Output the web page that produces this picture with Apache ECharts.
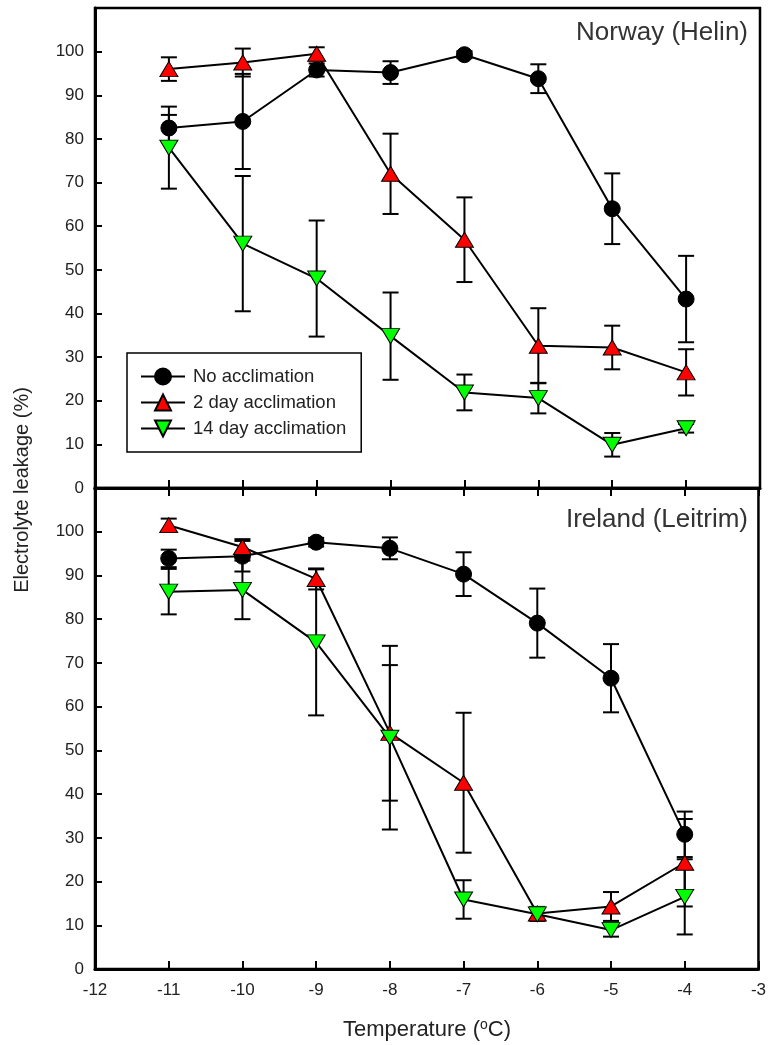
<!DOCTYPE html>
<html>
<head>
<meta charset="utf-8">
<script src="https://cdn.jsdelivr.net/npm/echarts@6/dist/echarts.min.js"></script>
<style>
html,body{margin:0;padding:0;background:#fff;}
#chart{width:769px;height:1045px;}
</style>
</head>
<body>
<div id="chart"></div>
<script>
// ---- Data ----
const temps = [-11, -10, -9, -8, -7, -6, -5, -4];
const seriesNames = ['No acclimation', '2 day acclimation', '14 day acclimation'];
const yTicks = [0, 10, 20, 30, 40, 50, 60, 70, 80, 90, 100];
const xTicks = [-12, -11, -10, -9, -8, -7, -6, -5, -4, -3];
const panelTitles = ['Norway (Helin)', 'Ireland (Leitrim)'];

// Norway (Helin)
const norwayNo = [82.5, 84, 95.8, 95.2, 99.3, 93.8, 64, 43.3];
const norwayNoErr = [3, 10.9, 1.5, 2.6, 0.8, 3.3, 8.1, 9.9];
const norway2 = [96, 97.5, 99.5, 72, 56.9, 32.6, 32.2, 26.5];
const norway2Err = [2.7, 3.2, 1.5, 9.2, 9.7, 8.6, 5, 5.3];
const norway14 = [78, 56, 48, 34.8, 21.9, 20.6, 9.9, 13.7];
const norway14Err = [9.4, 15.5, 13.3, 10, 4.1, 3.5, 2.7, 1];

// Ireland (Leitrim)
const irelandNo = [93.9, 94.4, 97.6, 96.2, 90.3, 79.1, 66.5, 30.8];
const irelandNoErr = [2, 3.5, 1, 2.5, 5, 7.9, 7.8, 5.2];
const ireland2 = [101.5, 96.5, 89.2, 54, 42.6, 12.7, 14.3, 24.3];
const ireland2Err = [1.5, 1.8, 2.4, 15.5, 16, 1.5, 3.3, 10];
const ireland14 = [86.3, 86.7, 74.7, 52.9, 15.9, 12.5, 8.9, 16.5];
const ireland14Err = [5.2, 6.7, 16.7, 21, 4.4, 1.5, 1.5, 8.6];

// ---- Styles ----
const FONT = 'Liberation Sans, Arial, sans-serif';
const colors = ['#000000', '#ff0000', '#00ff00'];
const symbols = ['circle', 'triangle', 'path://M0,0 L10,0 L5,8.66 Z'];
const symSizes = [16, [18, 15], [18, 15]];

const chart = echarts.init(document.getElementById('chart'), null, {renderer: 'canvas'});

function pts(vals) { return temps.map((t, i) => [t, vals[i]]); }
function errPts(vals, errs) { return temps.map((t, i) => [t, vals[i] - errs[i], vals[i] + errs[i]]); }

function errRender(params, api) {
  const x = api.value(0), lo = api.value(1), hi = api.value(2);
  const a = api.coord([x, hi]), b = api.coord([x, lo]);
  const w = 8;
  const st = {stroke: '#000', lineWidth: 2};
  return {type: 'group', children: [
    {type: 'line', shape: {x1: a[0], y1: a[1], x2: b[0], y2: b[1]}, style: st},
    {type: 'line', shape: {x1: a[0] - w, y1: a[1], x2: a[0] + w, y2: a[1]}, style: st},
    {type: 'line', shape: {x1: b[0] - w, y1: b[1], x2: b[0] + w, y2: b[1]}, style: st}
  ]};
}

const panels = [
  [[norwayNo, norwayNoErr], [norway2, norway2Err], [norway14, norway14Err]],
  [[irelandNo, irelandNoErr], [ireland2, ireland2Err], [ireland14, ireland14Err]]
];

const series = [];
panels.forEach((p, gi) => {
  p.forEach((s, si) => {
    series.push({
      type: 'custom', xAxisIndex: gi === 0 ? 0 : 1, yAxisIndex: gi,
      renderItem: errRender, data: errPts(s[0], s[1]), z: 2, silent: true
    });
  });
  p.forEach((s, si) => {
    series.push({
      name: seriesNames[si], type: 'line',
      xAxisIndex: gi === 0 ? 0 : 1, yAxisIndex: gi,
      data: pts(s[0]), symbol: symbols[si], symbolSize: symSizes[si],
      showAllSymbol: true,
      lineStyle: {color: '#000', width: 2},
      itemStyle: {color: colors[si], borderColor: '#000', borderWidth: 1},
      z: 3 + si, animation: false
    });
  });
});

const yAxisBase = {
  type: 'value', min: 0, max: 110, interval: 10,
  axisLine: {show: true, lineStyle: {color: '#000', width: 3}},
  axisTick: {show: true, inside: true, length: 7, lineStyle: {color: '#000', width: 2}},
  axisLabel: {color: '#222', fontSize: 17, fontFamily: FONT, margin: 11,
    formatter: v => (yTicks.indexOf(v) >= 0 ? String(v) : '')},
  splitLine: {show: false}
};
const xAxisBase = {
  type: 'value', min: -12, max: -3, interval: 1,
  axisLine: {show: true, lineStyle: {color: '#000', width: 3}},
  axisTick: {show: true, inside: true, length: 8, lineStyle: {color: '#000', width: 2}},
  splitLine: {show: false}
};

const option = {
  animation: false,
  backgroundColor: '#fff',
  grid: [
    {left: 95, right: 9, top: 8, height: 480, show: true, borderColor: '#000', borderWidth: 2.5, backgroundColor: 'transparent'},
    {left: 95, right: 9, top: 488, height: 481, show: true, borderColor: '#000', borderWidth: 2.5, backgroundColor: 'transparent'}
  ],
  xAxis: [
    Object.assign({}, xAxisBase, {gridIndex: 0, position: 'bottom', axisLabel: {show: false}}),
    Object.assign({}, xAxisBase, {gridIndex: 1, position: 'bottom',
      axisLabel: {color: '#222', fontSize: 17, fontFamily: FONT, margin: 13,
        formatter: v => (xTicks.indexOf(v) >= 0 ? String(v) : '')}}),
    Object.assign({}, xAxisBase, {gridIndex: 1, position: 'top', axisLabel: {show: false}})
  ],
  yAxis: [
    Object.assign({}, yAxisBase, {gridIndex: 0}),
    Object.assign({}, yAxisBase, {gridIndex: 1})
  ],
  legend: {
    data: seriesNames,
    orient: 'vertical', left: 127, top: 353,
    backgroundColor: '#fff', borderColor: '#000', borderWidth: 1.5,
    padding: [14, 15, 14, 13], itemGap: 7,
    itemWidth: 44, itemHeight: 20,
    textStyle: {color: '#222', fontSize: 18.5, fontFamily: FONT, padding: [0, 0, 0, 3]},
    selectedMode: false
  },
  graphic: [
    {type: 'text', x: 748, y: 33, style: {text: panelTitles[0], fill: '#333', font: '26px ' + FONT, textAlign: 'right', textVerticalAlign: 'middle'}},
    {type: 'text', x: 748, y: 520, style: {text: panelTitles[1], fill: '#333', font: '26px ' + FONT, textAlign: 'right', textVerticalAlign: 'middle'}},
    {type: 'text', x: 22, y: 490, rotation: Math.PI / 2,
      style: {text: 'Electrolyte leakage (%)', fill: '#222', font: '20px ' + FONT, textAlign: 'center', textVerticalAlign: 'middle'}},
    {type: 'text', x: 427, y: 1030,
      style: {
        text: '{a|Temperature (}{s|o}{a|C)}',
        textAlign: 'center', textVerticalAlign: 'middle',
        rich: {
          a: {fontSize: 22, fontFamily: FONT, fill: '#222', color: '#222', lineHeight: 23},
          s: {fontSize: 14, fontFamily: FONT, fill: '#222', color: '#222', verticalAlign: 'top', lineHeight: 14}
        }
      }}
  ],
  series: series
};
chart.setOption(option);
</script>
</body>
</html>
